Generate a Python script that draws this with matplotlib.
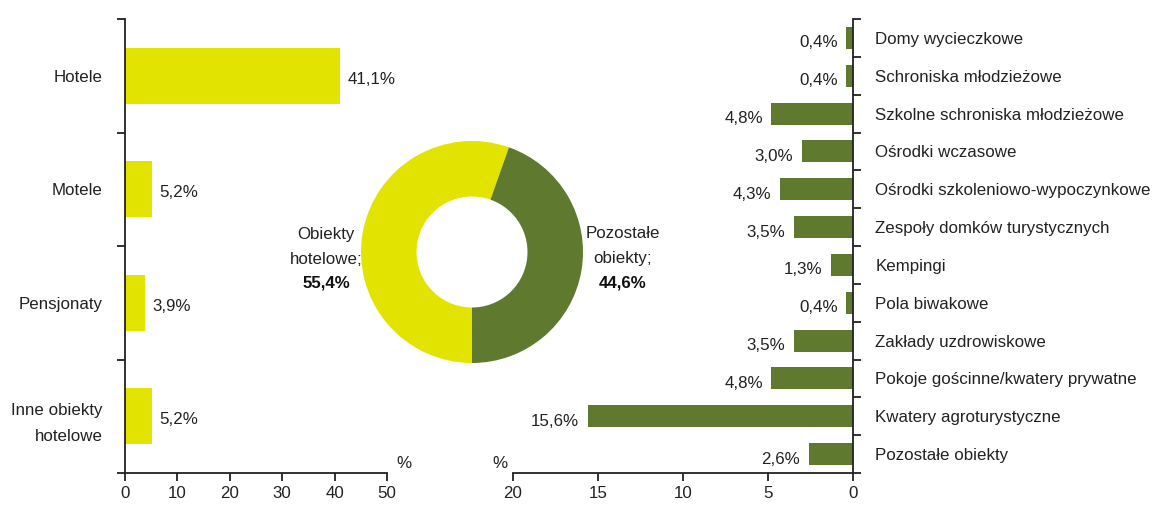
import matplotlib
matplotlib.use("Agg")
import matplotlib.pyplot as plt
from matplotlib import font_manager

names = {f.name for f in font_manager.fontManager.ttflist}
fam = ['Liberation Sans Narrow'] if 'Liberation Sans Narrow' in names else ['Liberation Sans']
plt.rcParams['font.family'] = fam + ['DejaVu Sans']

# ---- data ----
hotel_cats = ["Hotele", "Motele", "Pensjonaty", "Inne obiekty\nhotelowe"]
hotel_vals = [41.1, 5.2, 3.9, 5.2]
hotel_lbls = ["41,1%", "5,2%", "3,9%", "5,2%"]

other_cats = ["Domy wycieczkowe", "Schroniska młodzieżowe", "Szkolne schroniska młodzieżowe",
              "Ośrodki wczasowe", "Ośrodki szkoleniowo-wypoczynkowe", "Zespoły domków turystycznych",
              "Kempingi", "Pola biwakowe", "Zakłady uzdrowiskowe", "Pokoje gościnne/kwatery prywatne",
              "Kwatery agroturystyczne", "Pozostałe obiekty"]
other_vals = [0.4, 0.4, 4.8, 3.0, 4.3, 3.5, 1.3, 0.4, 3.5, 4.8, 15.6, 2.6]
other_lbls = ["0,4%", "0,4%", "4,8%", "3,0%", "4,3%", "3,5%", "1,3%", "0,4%", "3,5%", "4,8%", "15,6%", "2,6%"]

donut_vals = [55.4, 44.6]
donut_line1 = ["Obiekty", "Pozostałe"]
donut_line2 = ["hotelowe;", "obiekty;"]
donut_pcts = ["55,4%", "44,6%"]

left_ticks = [0, 10, 20, 30, 40, 50]
right_ticks = [0, 5, 10, 15, 20]

YEL = "#E3E300"
GRN = "#5F7A2E"
AXC = "#222222"
TXT = "#222222"
FS = 12.2

W, H = 1156, 507
fig = plt.figure(figsize=(W / 100, H / 100), dpi=100)

def fx(px): return px / W
def fy(py): return py / H

top, bot = 19, 473

# ---- left bar chart ----
ax1 = fig.add_axes([fx(125), fy(H - bot), fx(387 - 125), fy(bot - top)])
ax1.patch.set_alpha(0)
n1 = len(hotel_cats)
pos1 = list(range(n1))
ax1.barh(pos1, hotel_vals, height=0.49, color=YEL)
ax1.set_ylim(n1 - 0.5, -0.5)
ax1.set_xlim(0, 50)
for s in ["top", "right"]:
    ax1.spines[s].set_visible(False)
for s in ["left", "bottom"]:
    ax1.spines[s].set_color(AXC)
    ax1.spines[s].set_linewidth(1.3)
ax1.set_yticks([i - 0.5 for i in range(n1 + 1)])
ax1.set_yticklabels([])
ax1.set_yticks(pos1, minor=True)
ax1.set_yticklabels(hotel_cats, minor=True, fontsize=FS, ha="right", color=TXT)
for t in ax1.get_yticklabels(minor=True):
    t.set_linespacing(1.9)
ax1.tick_params(axis="y", which="major", direction="out", length=6, width=1.3, color=AXC)
ax1.tick_params(axis="y", which="minor", length=0, pad=16)
ax1.set_xticks(left_ticks)
ax1.set_xticklabels([str(t) for t in left_ticks], fontsize=FS, color=TXT)
ax1.tick_params(axis="x", direction="out", length=6, width=1.3, color=AXC, pad=3)
for i, (v, l) in enumerate(zip(hotel_vals, hotel_lbls)):
    ax1.text(v + 1.4, i + 0.03, l, fontsize=FS, va="center", ha="left", color=TXT)
ax1.text(1.035, 0.005, "%", transform=ax1.transAxes, fontsize=FS, ha="left", va="bottom", color=TXT)

# ---- right bar chart ----
ax3 = fig.add_axes([fx(513), fy(H - bot), fx(853 - 513), fy(bot - top)])
ax3.patch.set_alpha(0)
n3 = len(other_cats)
pos3 = list(range(n3))
ax3.barh(pos3, other_vals, height=0.58, color=GRN)
ax3.set_ylim(n3 - 0.5, -0.5)
ax3.set_xlim(20, 0)
for s in ["top", "left"]:
    ax3.spines[s].set_visible(False)
for s in ["right", "bottom"]:
    ax3.spines[s].set_color(AXC)
    ax3.spines[s].set_linewidth(1.3)
ax3.yaxis.tick_right()
ax3.set_yticks([i - 0.5 for i in range(n3 + 1)])
ax3.set_yticklabels([])
ax3.set_yticks(pos3, minor=True)
ax3.set_yticklabels(other_cats, minor=True, fontsize=FS, ha="left", color=TXT)
ax3.tick_params(axis="y", which="major", direction="out", length=6, width=1.3, color=AXC,
                right=True, left=False)
ax3.tick_params(axis="y", which="minor", length=0, pad=16, right=True, left=False,
                labelright=True, labelleft=False)
ax3.set_xticks(right_ticks)
ax3.set_xticklabels([str(t) for t in right_ticks], fontsize=FS, color=TXT)
ax3.tick_params(axis="x", direction="out", length=6, width=1.3, color=AXC, pad=3)
for i, (v, l) in enumerate(zip(other_vals, other_lbls)):
    ax3.text(v + 0.5, i + 0.13, l, fontsize=FS, va="center", ha="right", color=TXT)
ax3.text(-0.015, 0.005, "%", transform=ax3.transAxes, fontsize=FS, ha="right", va="bottom",
         color=TXT)

# ---- donut ----
cx, cy, r = 472, 252, 111
ax2 = fig.add_axes([fx(cx - r), fy(H - cy - r), fx(2 * r), fy(2 * r)])
ax2.pie(donut_vals, colors=[YEL, GRN], startangle=-90, counterclock=False,
        wedgeprops=dict(width=0.5, edgecolor="none"), radius=1)
ax2.set_xlim(-1, 1)
ax2.set_ylim(-1, 1)
ax2.axis("off")
for xc, l1, l2, p in zip([326, 623], donut_line1, donut_line2, donut_pcts):
    fig.text(fx(xc), fy(H - 234), l1, fontsize=FS, ha="center", va="center", color=TXT)
    fig.text(fx(xc), fy(H - 259), l2, fontsize=FS, ha="center", va="center", color=TXT)
    fig.text(fx(xc), fy(H - 283), p, fontsize=FS, ha="center", va="center",
             fontweight="bold", color="#111111")

fig.savefig("out.png", dpi=100, facecolor="white")
